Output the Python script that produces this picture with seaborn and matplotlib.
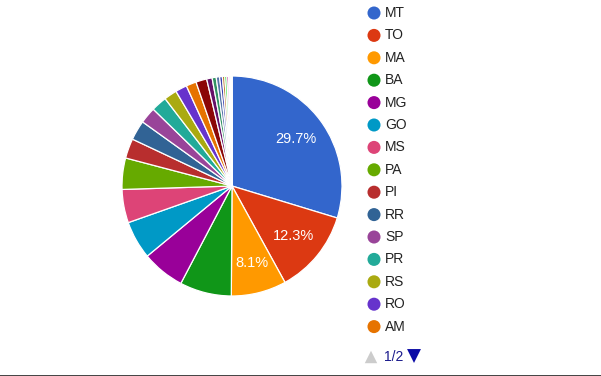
import matplotlib
matplotlib.use("Agg")
import matplotlib.pyplot as plt
import seaborn as sns

sns.set_theme(style="white")
plt.rcParams['font.family'] = ['Arial', 'Liberation Sans', 'DejaVu Sans']

# share of each state, clockwise from 12 o'clock
states = ['MT', 'TO', 'MA', 'BA', 'MG', 'GO', 'MS', 'PA', 'PI', 'RR',
          'SP', 'PR', 'RS', 'RO', 'AM', 'SC', 'CE', 'PE', 'AC', 'PB',
          'DF', 'AL', 'RN', 'SE', 'ES', 'RJ', 'AP']
shares = [29.7, 12.3, 8.1, 7.6, 6.3, 5.6, 4.9, 4.6, 2.9, 2.9,
          2.4, 2.3, 1.9, 1.7, 1.5, 1.6, 0.8, 0.6, 0.5, 0.4,
          0.35, 0.3, 0.25, 0.2, 0.15, 0.1, 0.05]
colors = ['#3366cc', '#dc3912', '#ff9900', '#109618', '#990099', '#0099c6',
          '#dd4477', '#66aa00', '#b82e2e', '#316395', '#994499', '#22aa99',
          '#aaaa11', '#6633cc', '#e67300', '#8b0707', '#651067', '#329262',
          '#5574a6', '#3b3eac', '#b77322', '#16d620', '#b91383', '#f4359e',
          '#9c5935', '#a9c413', '#2a778d']
legend_page = 15  # legend shows first page only
page_label = '1/2'

W, H = 601, 376
fig = plt.figure(figsize=(W / 100, H / 100), dpi=100)
fig.patch.set_facecolor('white')

# pie axes: centre (232, 186) px, radius 110 px
cx, cy, r = 232, 186, 110
ax = fig.add_axes([(cx - r) / W, (H - cy - r) / H, 2 * r / W, 2 * r / H])


def fmt(p):
    return f'{p:.1f}%' if p >= 8 else ''


wedges, texts, autotexts = ax.pie(
    shares, colors=colors, startangle=90, counterclock=False,
    autopct=fmt, pctdistance=0.72, radius=1.0,
    wedgeprops=dict(edgecolor='white', linewidth=0.9),
    textprops=dict(color='white', fontsize=10.5))
ax.set_xlim(-1, 1)
ax.set_ylim(-1, 1)
ax.set_aspect('equal')
ax.axis('off')

# legend drawn in pixel coordinates
lax = fig.add_axes([0, 0, 1, 1])
lax.set_xlim(0, W)
lax.set_ylim(H, 0)
lax.axis('off')
for i, (s, c) in enumerate(zip(states[:legend_page], colors[:legend_page])):
    y = 13 + i * 22.4
    lax.scatter(374, y, s=88, color=c, edgecolor='none')
    lax.text(385, y, s, fontsize=10, color='#222222', va='center', ha='left')

lax.scatter(371, 357, marker='^', s=80, color='#cccccc', edgecolor='none')
lax.text(384, 357, page_label, fontsize=10, color='#1a1a8c', va='center', ha='left')
lax.scatter(414, 356, marker='v', s=100, color='#0b0ba6', edgecolor='none')
lax.plot([0, W], [H - 0.5, H - 0.5], color='#222222', linewidth=1.2)

fig.savefig('out.png', dpi=100, facecolor='white')
